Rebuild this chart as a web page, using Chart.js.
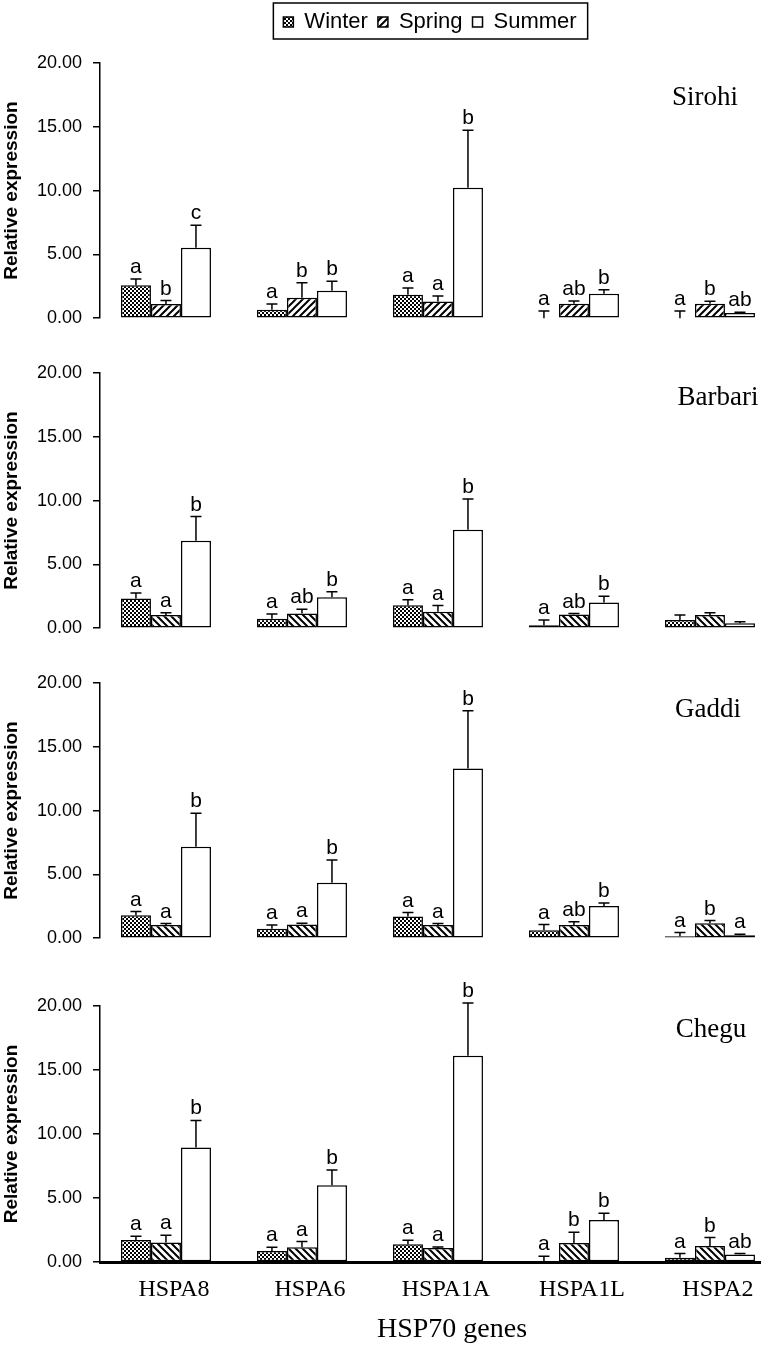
<!DOCTYPE html>
<html>
<head>
<meta charset="utf-8">
<script src="https://cdn.jsdelivr.net/npm/chart.js@4.4.1/dist/chart.umd.min.js"></script>
<style>
html,body{margin:0;padding:0;background:#fff;width:773px;height:1345px;overflow:hidden}
.panel{position:absolute;left:0;width:773px}
canvas{display:block}
</style>
</head>
<body>
<div class="panel" style="top:0px;height:340px"><canvas id="c0" width="773" height="340"></canvas></div>
<div class="panel" style="top:340px;height:310px"><canvas id="c1" width="773" height="310"></canvas></div>
<div class="panel" style="top:650px;height:310px"><canvas id="c2" width="773" height="310"></canvas></div>
<div class="panel" style="top:960px;height:385px"><canvas id="c3" width="773" height="385"></canvas></div>
<script>
// ---------- data ----------
const genes = ['HSPA8', 'HSPA6', 'HSPA1A', 'HSPA1L', 'HSPA2'];
const seasons = ['Winter', 'Spring', 'Summer'];
const breeds = ['Sirohi', 'Barbari', 'Gaddi', 'Chegu'];
const yTicks = [0, 5, 10, 15, 20];
const xAxisTitle = 'HSP70 genes';
const yAxisTitle = 'Relative expression';

const sirohiWinter = [2.58, 0.67, 1.84, 0.00, 0.00];
const sirohiWinterErr = [0.49, 0.45, 0.53, 0.57, 0.57];
const sirohiWinterSig = ['a', 'a', 'a', 'a', 'a'];
const sirohiSpring = [1.12, 1.61, 1.30, 1.14, 1.14];
const sirohiSpringErr = [0.26, 1.17, 0.44, 0.21, 0.19];
const sirohiSpringSig = ['b', 'b', 'a', 'ab', 'b'];
const sirohiSummer = [5.52, 2.16, 10.23, 1.92, 0.41];
const sirohiSummerErr = [1.77, 0.73, 4.50, 0.31, 0.06];
const sirohiSummerSig = ['c', 'b', 'b', 'b', 'ab'];

const barbariWinter = [2.32, 0.75, 1.80, 0.24, 0.65];
const barbariWinterErr = [0.43, 0.37, 0.42, 0.41, 0.39];
const barbariWinterSig = ['a', 'a', 'a', 'a', ''];
const barbariSpring = [1.04, 1.15, 1.28, 1.07, 1.04];
const barbariSpringErr = [0.18, 0.34, 0.49, 0.08, 0.18];
const barbariSpringSig = ['a', 'ab', 'a', 'ab', ''];
const barbariSummer = [6.85, 2.43, 7.71, 2.01, 0.39];
const barbariSummerErr = [1.90, 0.42, 2.41, 0.50, 0.11];
const barbariSummerSig = ['b', 'b', 'b', 'b', ''];

const gaddiWinter = [1.80, 0.75, 1.70, 0.63, 0.16];
const gaddiWinterErr = [0.29, 0.29, 0.31, 0.44, 0.28];
const gaddiWinterSig = ['a', 'a', 'a', 'a', 'a'];
const gaddiSpring = [1.04, 1.07, 1.04, 1.04, 1.18];
const gaddiSpringErr = [0.11, 0.11, 0.11, 0.24, 0.20];
const gaddiSpringSig = ['a', 'a', 'a', 'ab', 'b'];
const gaddiSummer = [7.16, 4.34, 13.30, 2.53, 0.24];
const gaddiSummerErr = [2.64, 1.78, 4.53, 0.22, 0.07];
const gaddiSummerSig = ['b', 'b', 'b', 'b', 'a'];

const cheguWinter = [1.72, 0.86, 1.38, 0.05, 0.34];
const cheguWinterErr = [0.29, 0.29, 0.32, 0.40, 0.32];
const cheguWinterSig = ['a', 'a', 'a', 'a', 'a'];
const cheguSpring = [1.52, 1.15, 1.10, 1.49, 1.25];
const cheguSpringErr = [0.57, 0.45, 0.07, 0.83, 0.66];
const cheguSpringSig = ['a', 'a', 'a', 'b', 'b'];
const cheguSummer = [8.95, 6.00, 16.12, 3.29, 0.58];
const cheguSummerErr = [2.11, 1.18, 4.12, 0.52, 0.08];
const cheguSummerSig = ['b', 'b', 'b', 'b', 'ab'];

// ---------- styling / layout ----------
const SANS = "'Liberation Sans', Arial, Helvetica, sans-serif";
const SERIF = "'Liberation Serif', 'Times New Roman', serif";

const panels = [
  { values: [sirohiWinter, sirohiSpring, sirohiSummer], errs: [sirohiWinterErr, sirohiSpringErr, sirohiSummerErr], sigs: [sirohiWinterSig, sirohiSpringSig, sirohiSummerSig] },
  { values: [barbariWinter, barbariSpring, barbariSummer], errs: [barbariWinterErr, barbariSpringErr, barbariSummerErr], sigs: [barbariWinterSig, barbariSpringSig, barbariSummerSig] },
  { values: [gaddiWinter, gaddiSpring, gaddiSummer], errs: [gaddiWinterErr, gaddiSpringErr, gaddiSummerErr], sigs: [gaddiWinterSig, gaddiSpringSig, gaddiSummerSig] },
  { values: [cheguWinter, cheguSpring, cheguSummer], errs: [cheguWinterErr, cheguSpringErr, cheguSummerErr], sigs: [cheguWinterSig, cheguSpringSig, cheguSummerSig] }
];

const layoutCfg = [
  { padTop: 1, padBottom: 21, xPos: 'top', xH: 20, legend: true, nameX: 705, nameY: 105 },
  { padTop: 33, padBottom: 21, xPos: 'bottom', xH: 0, legend: false, nameX: 718, nameY: 65 },
  { padTop: 33, padBottom: 21, xPos: 'bottom', xH: 0, legend: false, nameX: 708, nameY: 67 },
  { padTop: 46, padBottom: 0, xPos: 'bottom', xH: 83, legend: false, nameX: 711, nameY: 77, showX: true, xTitleX: 452, xTitleY: 377 }
];

function makeChecker() {
  const c = document.createElement('canvas'); c.width = 4; c.height = 4;
  const g = c.getContext('2d');
  g.fillStyle = '#000'; g.fillRect(0, 0, 4, 4);
  g.fillStyle = '#fff'; g.fillRect(0, 0, 2, 2); g.fillRect(2, 2, 2, 2);
  return g.createPattern(c, 'repeat');
}
function makeHatch(forward) {
  const s = 7;
  const c = document.createElement('canvas'); c.width = s; c.height = s;
  const g = c.getContext('2d');
  g.fillStyle = '#fff'; g.fillRect(0, 0, s, s);
  g.strokeStyle = '#000'; g.lineWidth = 2;
  g.beginPath();
  if (forward) { // "/"
    g.moveTo(-1, s + 1); g.lineTo(s + 1, -1);
    g.moveTo(-1, 1); g.lineTo(1, -1);
    g.moveTo(s - 1, s + 1); g.lineTo(s + 1, s - 1);
  } else { // "\"
    g.moveTo(-1, -1); g.lineTo(s + 1, s + 1);
    g.moveTo(s - 1, -1); g.lineTo(s + 1, 1);
    g.moveTo(-1, s - 1); g.lineTo(1, s + 1);
  }
  g.stroke();
  return g.createPattern(c, 'repeat');
}

const checker = makeChecker();
const hatchFwd = makeHatch(true);
const hatchBack = makeHatch(false);

const annotate = {
  id: 'annotate',
  afterDatasetsDraw(chart, args, opts) {
    const ctx = chart.ctx;
    const ys = chart.scales.y;
    ctx.save();
    ctx.strokeStyle = '#000';
    ctx.fillStyle = '#000';
    ctx.lineWidth = 1.5;
    ctx.font = '21px ' + SANS;
    ctx.textAlign = 'center';
    ctx.textBaseline = 'alphabetic';
    chart.data.datasets.forEach((ds, i) => {
      const meta = chart.getDatasetMeta(i);
      meta.data.forEach((bar, j) => {
        const v = ds.data[j].y;
        const e = ds.errors[j];
        const yt = ys.getPixelForValue(v + e);
        const yb = ys.getPixelForValue(v);
        ctx.beginPath();
        ctx.moveTo(bar.x, yb); ctx.lineTo(bar.x, yt);
        ctx.moveTo(bar.x - 5.5, yt); ctx.lineTo(bar.x + 5.5, yt);
        ctx.stroke();
        if (ds.sig[j]) ctx.fillText(ds.sig[j], bar.x, yt - 6);
      });
    });
    ctx.font = '27px ' + SERIF;
    ctx.fillText(opts.name, opts.nameX, opts.nameY);
    if (opts.xTitle) {
      ctx.font = '28px ' + SERIF;
      ctx.fillText(opts.xTitle, opts.xTitleX, opts.xTitleY);
    }
    ctx.restore();
  },
  afterDraw(chart, args, opts) {
    if (!opts.frame || !chart.legend || !chart.legend.legendHitBoxes) return;
    const hb = chart.legend.legendHitBoxes;
    const first = hb[0], last = hb[hb.length - 1];
    const l = first.left - 10, r = last.left + last.width + 11;
    const t = first.top - 8, b = first.top + first.height + 6;
    const ctx = chart.ctx;
    ctx.save();
    ctx.strokeStyle = '#000';
    ctx.lineWidth = 1.5;
    ctx.strokeRect(l, t, r - l, b - t);
    ctx.restore();
  }
};

const xMin = -0.485, xMax = 4.368;

panels.forEach((p, idx) => {
  const L = layoutCfg[idx];
  const fills = [checker, idx === 0 ? hatchFwd : hatchBack, '#fff'];
  const datasets = seasons.map((s, k) => ({
    label: s,
    data: p.values[k].map((v, i) => ({ x: i, y: v })),
    errors: p.errs[k],
    sig: p.sigs[k],
    backgroundColor: fills[k],
    borderColor: '#000',
    borderWidth: 1.5,
    borderSkipped: false,
    categoryPercentage: 0.662,
    barPercentage: 1
  }));
  const xScale = {
    type: 'linear',
    min: xMin, max: xMax,
    offset: false,
    position: L.xPos,
    afterBuildTicks: a => { a.ticks = genes.map((g, i) => ({ value: i })); },
    afterFit: a => { a.height = L.xH; },
    grid: { display: false },
    border: { display: !!L.showX, color: '#000', width: 3 },
    ticks: L.showX ? {
      display: true, autoSkip: false, maxRotation: 0, minRotation: 0,
      callback: v => genes[v],
      font: { family: SERIF, size: 24 }, color: '#000', padding: 5, labelOffset: 8
    } : { display: false }
  };
  new Chart(document.getElementById('c' + idx), {
    type: 'bar',
    data: { datasets },
    options: {
      responsive: false,
      animation: false,
      events: [],
      layout: { padding: { top: L.padTop, bottom: L.padBottom, left: 0, right: 13 } },
      scales: {
        x: xScale,
        y: {
          type: 'linear',
          min: 0, max: 20,
          afterBuildTicks: a => { a.ticks = yTicks.map(v => ({ value: v })); },
          afterFit: a => { a.width = 100; },
          ticks: { callback: v => Number(v).toFixed(2), font: { family: SANS, size: 18 }, color: '#000', padding: 11 },
          grid: { drawOnChartArea: false, drawTicks: true, tickLength: 7, color: '#000', tickColor: '#000', lineWidth: 1.5, tickWidth: 1.5 },
          border: { display: true, color: '#000', width: 1.5 },
          title: { display: true, text: yAxisTitle, color: '#000', font: { family: SANS, size: 19, weight: 'bold' }, padding: { top: 0, bottom: 0 } }
        }
      },
      plugins: {
        tooltip: { enabled: false },
        legend: {
          display: L.legend,
          position: 'top',
          fullSize: false,
          align: 'center',
          labels: { boxWidth: 10, boxHeight: 10, padding: 10, color: '#000', font: { family: SANS, size: 22 } }
        },
        annotate: {
          name: breeds[idx], nameX: L.nameX, nameY: L.nameY,
          frame: L.legend,
          xTitle: L.showX ? xAxisTitle : null, xTitleX: L.xTitleX, xTitleY: L.xTitleY
        }
      }
    },
    plugins: [annotate]
  });
});
</script>
</body>
</html>
